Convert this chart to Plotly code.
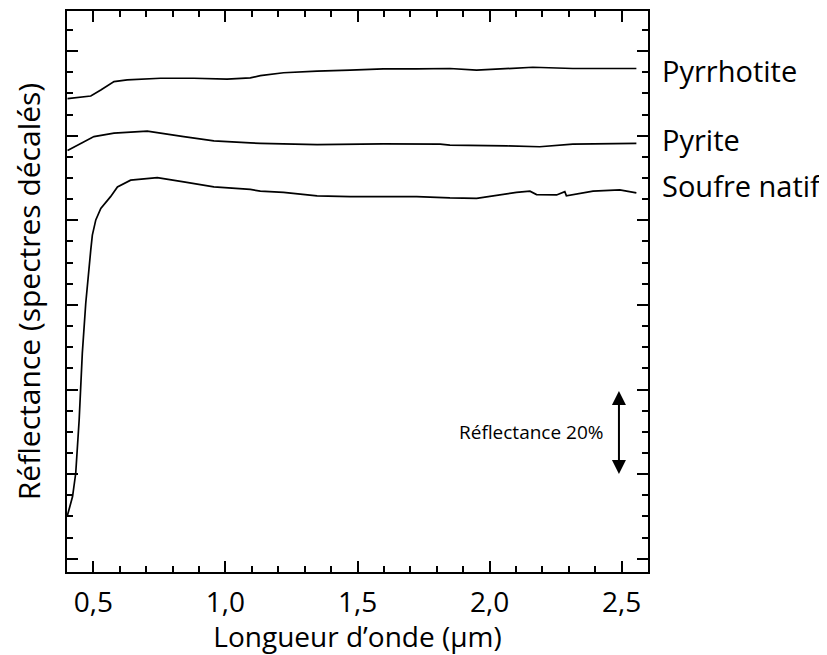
import plotly.graph_objects as go

# --------------------------------------------------------------- data
# wavelength (µm) / reflectance (offset spectra, % units)
pyrrhotite_x = [0.402, 0.490, 0.528, 0.578, 0.628, 0.754, 0.880, 1.006, 1.094, 1.132,
                1.220, 1.347, 1.472, 1.598, 1.724, 1.813, 1.850, 1.951, 2.164, 2.315, 2.556]
pyrrhotite_y = [108.8, 109.4, 110.8, 112.8, 113.2, 113.6, 113.6, 113.4, 113.7, 114.2,
                114.9, 115.3, 115.5, 115.8, 115.8, 115.8, 115.9, 115.5, 116.2, 115.9, 115.9]

pyrite_x = [0.402, 0.502, 0.578, 0.704, 0.842, 0.956, 1.094, 1.132, 1.347, 1.598,
            1.813, 1.850, 2.065, 2.190, 2.315, 2.556]
pyrite_y = [96.5, 99.8, 100.6, 101.1, 99.8, 98.8, 98.3, 98.2, 97.9, 98.1,
            98.0, 97.8, 97.6, 97.4, 98.0, 98.2]

soufre_x = [0.402, 0.421, 0.433, 0.446, 0.458, 0.471, 0.490, 0.496, 0.509, 0.528,
            0.565, 0.591, 0.641, 0.742, 0.842, 0.956, 1.094, 1.132, 1.220, 1.347,
            1.472, 1.598, 1.724, 1.850, 1.951, 2.102, 2.153, 2.178, 2.254, 2.285,
            2.291, 2.392, 2.493, 2.556]
soufre_y = [10.3, 14.7, 20.2, 32.8, 48.6, 60.4, 73.0, 76.5, 80.1, 82.8,
            85.6, 87.9, 89.5, 90.1, 89.1, 87.9, 87.3, 86.9, 86.6, 85.8,
            85.6, 85.6, 85.6, 85.3, 85.2, 86.6, 86.9, 86.1, 86.0, 86.8,
            85.8, 86.9, 87.2, 86.5]

labels = ["Pyrrhotite", "Pyrite", "Soufre natif"]
label_y = [115.5, 99.1, 88.3]

scale_bar = [20, 40]  # 20 % reflectance
FONT = "Open Sans"

# --------------------------------------------------------------- figure
fig = go.Figure()
for xs, ys, name in [(pyrrhotite_x, pyrrhotite_y, labels[0]),
                     (pyrite_x, pyrite_y, labels[1]),
                     (soufre_x, soufre_y, labels[2])]:
    fig.add_trace(go.Scatter(x=xs, y=ys, name=name, mode="lines",
                             line=dict(color="black", width=1.7)))

for name, yv in zip(labels, label_y):
    fig.add_annotation(text=name, xref="paper", yref="y", x=1.02, y=yv,
                       xanchor="left", yanchor="middle", showarrow=False,
                       font=dict(size=29, color="black", family=FONT))

# scale arrow + label
fig.add_annotation(x=2.49, y=scale_bar[0], ax=2.49, ay=scale_bar[1],
                   xref="x", yref="y", axref="x", ayref="y", text="",
                   showarrow=True, arrowhead=2, startarrowhead=2, arrowside="end+start",
                   arrowwidth=2, arrowsize=1.4, startarrowsize=1.4, arrowcolor="black")
fig.add_annotation(text="Réflectance 20%", x=2.436, y=30, xref="x", yref="y",
                   xanchor="right", yanchor="middle", showarrow=False,
                   font=dict(size=19, color="black", family=FONT))

axis_common = dict(showline=True, linecolor="black", linewidth=2, mirror="allticks",
                   ticks="inside", ticklen=11, tickwidth=2, tickcolor="black",
                   showgrid=False, zeroline=False)

fig.update_xaxes(range=[0.4, 2.6], dtick=0.5, tick0=0, tickformat=".1f",
                 minor=dict(dtick=0.1, ticklen=6, tickwidth=2, tickcolor="black",
                            ticks="inside", showgrid=False),
                 ticklabelstandoff=4,
                 title=dict(text="Longueur d’onde (µm)", standoff=10,
                            font=dict(size=28, family=FONT, color="black")),
                 tickfont=dict(size=28, family=FONT, color="black"),
                 **axis_common)
fig.update_yaxes(range=[-3.15, 129.5], dtick=20, tick0=0, showticklabels=False,
                 minor=dict(dtick=5, ticklen=6, tickwidth=2, tickcolor="black",
                            ticks="inside", showgrid=False),
                 title=dict(text="Réflectance (spectres décalés)", standoff=25,
                            font=dict(size=30, family=FONT, color="black")),
                 **axis_common)

# the page body adds an 8px margin, so the figure is 8px smaller than the window
fig.update_layout(width=819, height=647, separators=", ",
                  margin=dict(l=59, r=179, t=3, b=83, autoexpand=False),
                  plot_bgcolor="white", paper_bgcolor="white",
                  showlegend=False, font=dict(family=FONT, color="black"))

fig.write_html("out.html")
